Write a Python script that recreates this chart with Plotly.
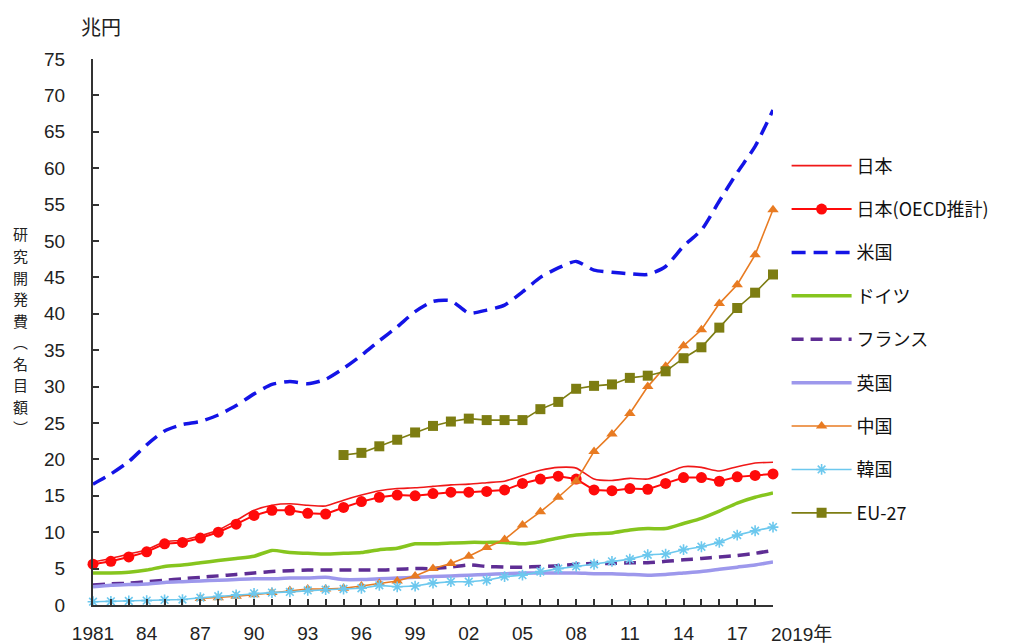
import plotly.graph_objects as go

# 研究開発費（名目額）, 兆円
years = list(range(1981, 2020))
years_china = list(range(1987, 2020))
years_eu = list(range(1995, 2020))

japan = [5.9, 6.4, 7.0, 7.6, 8.7, 8.9, 9.5, 10.3, 11.6, 13.0,
         13.7, 13.9, 13.7, 13.6, 14.4, 15.1, 15.7, 16.0, 16.1, 16.3,
         16.5, 16.6, 16.8, 17.0, 17.8, 18.5, 18.9, 18.8, 17.3, 17.1,
         17.4, 17.3, 18.1, 19.0, 18.9, 18.4, 19.0, 19.5, 19.6]
japan_oecd = [5.6, 6.0, 6.6, 7.3, 8.4, 8.6, 9.2, 10.0, 11.1, 12.3,
              13.0, 13.0, 12.6, 12.5, 13.4, 14.2, 14.8, 15.1, 15.0, 15.3,
              15.5, 15.5, 15.6, 15.8, 16.7, 17.3, 17.7, 17.3, 15.8, 15.7,
              16.0, 15.9, 16.7, 17.5, 17.5, 17.0, 17.6, 17.8, 18.0]
usa = [16.6, 18.0, 19.7, 22.0, 23.9, 24.8, 25.2, 26.1, 27.4, 29.0,
       30.3, 30.7, 30.4, 31.0, 32.5, 34.3, 36.3, 38.2, 40.3, 41.7,
       41.8, 40.1, 40.5, 41.2, 43.0, 45.0, 46.3, 47.2, 46.0, 45.7,
       45.5, 45.4, 46.5, 49.3, 51.5, 55.5, 59.4, 63.0, 68.0]
germany = [4.4, 4.4, 4.5, 4.8, 5.3, 5.5, 5.8, 6.1, 6.4, 6.7,
           7.5, 7.2, 7.1, 7.0, 7.1, 7.2, 7.6, 7.8, 8.4, 8.4,
           8.5, 8.6, 8.6, 8.6, 8.4, 8.7, 9.2, 9.6, 9.8, 9.9,
           10.3, 10.5, 10.5, 11.2, 11.9, 12.9, 14.0, 14.8, 15.4]
france = [2.75, 2.9, 3.0, 3.2, 3.4, 3.6, 3.8, 4.0, 4.2, 4.4,
          4.6, 4.7, 4.8, 4.8, 4.8, 4.8, 4.8, 4.9, 5.0, 5.0,
          5.2, 5.5, 5.3, 5.2, 5.2, 5.3, 5.4, 5.6, 5.7, 5.7,
          5.8, 5.8, 6.0, 6.2, 6.4, 6.6, 6.8, 7.1, 7.5]
uk = [2.5, 2.7, 2.8, 2.9, 3.1, 3.2, 3.3, 3.4, 3.5, 3.6,
      3.6, 3.7, 3.7, 3.8, 3.5, 3.5, 3.6, 3.7, 3.8, 3.9,
      4.0, 4.1, 4.2, 4.3, 4.4, 4.4, 4.4, 4.4, 4.3, 4.3,
      4.2, 4.1, 4.2, 4.4, 4.6, 4.9, 5.2, 5.5, 5.9]
china = [0.9, 1.0, 1.2, 1.4, 1.7, 2.0, 2.2, 2.2, 2.3, 2.6,
         3.0, 3.3, 4.0, 5.0, 5.7, 6.7, 7.9, 9.0, 11.0, 12.8,
         14.8, 17.0, 21.1, 23.5, 26.3, 30.0, 32.8, 35.6, 37.8, 41.4,
         44.0, 48.1, 54.3]
korea = [0.45, 0.5, 0.55, 0.6, 0.7, 0.75, 1.0, 1.2, 1.4, 1.6,
         1.7, 1.8, 2.0, 2.1, 2.2, 2.3, 2.7, 2.5, 2.6, 3.0,
         3.2, 3.2, 3.4, 3.9, 4.1, 4.6, 5.0, 5.3, 5.6, 6.0,
         6.3, 6.9, 7.0, 7.6, 8.0, 8.6, 9.6, 10.2, 10.7]
eu27 = [20.6, 20.9, 21.8, 22.7, 23.7, 24.6, 25.2, 25.6, 25.4, 25.4,
        25.4, 26.9, 27.9, 29.7, 30.1, 30.3, 31.2, 31.5, 32.1, 33.9,
        35.4, 38.1, 40.8, 42.9, 45.4]

xtick_vals = list(range(1981, 2019, 3))
xtick_text = ["1981", "84", "87", "90", "93", "96", "99", "02", "05",
              "08", "11", "14", "17"]

y_title_chars = list("研究開発費︵名目額︶")

FONT = "Liberation Sans, Arial, Noto Sans CJK JP, sans-serif"
CJK = "Noto Sans CJK JP, sans-serif"

# plot area in pixels
L, T, W, H = 93, 59, 680, 546

fig = go.Figure()


def add(name, x, y, color, width, dash="solid", shape="linear",
        symbol=None, msize=0, mline=0):
    mode = "lines+markers" if symbol else "lines"
    marker = dict(symbol=symbol, size=msize, color=color,
                  line=dict(color=color, width=mline)) if symbol else None
    fig.add_trace(go.Scatter(
        x=x, y=y, name=name, mode=mode, legendgroup=name,
        line=dict(color=color, width=width, dash=dash, shape=shape,
                  smoothing=0.6),
        marker=marker, cliponaxis=False))


add("日本", years, japan, "#f01818", 1.6, shape="spline")
add("日本(OECD推計)", years, japan_oecd, "#ff0a0a", 2,
    symbol="circle", msize=11)
add("米国", years, usa, "#1414e6", 3.5, dash="14px,8px", shape="spline")
add("ドイツ", years, germany, "#86c51e", 3.5, shape="spline")
add("フランス", years, france, "#5e2d94", 3.5, dash="12px,7px",
    shape="spline")
add("英国", years, uk, "#9d98ec", 3.5, shape="spline")
add("中国", years_china, china, "#e87b22", 1.6,
    symbol="triangle-up", msize=10)
add("韓国", years, korea, "#6cc8ee", 1.6,
    symbol="asterisk-open", msize=9, mline=1.6)
add("EU-27", years_eu, eu27, "#7d7d12", 1.6, symbol="square", msize=10)

annotations = [
    dict(text="兆円", xref="paper", yref="paper", x=(101 - L) / W,
         y=(T + H - 27) / H, xanchor="center", yanchor="middle",
         showarrow=False, font=dict(family=CJK, size=20, color="#222")),
    dict(text="2019年", xref="x", yref="paper", x=2019, y=0,
         xanchor="left", yanchor="top", xshift=-4, yshift=-17,
         showarrow=False, font=dict(family=FONT, size=19, color="#222")),
]
# vertical axis title, one character per row
for i, ch in enumerate(y_title_chars):
    yc = 234 + i * 21.5
    annotations.append(dict(
        text=ch, xref="paper", yref="paper", x=(20 - L) / W,
        y=(T + H - yc) / H, xanchor="center", yanchor="middle",
        showarrow=False, borderpad=0,
        font=dict(family=CJK, size=15, color="#222")))

fig.update_layout(
    width=1021, height=644,
    margin=dict(l=L, r=1021 - L - W, t=T, b=644 - T - H, autoexpand=False),
    paper_bgcolor="white", plot_bgcolor="white",
    font=dict(family=FONT, size=19, color="#222"),
    showlegend=True,
    legend=dict(x=1.02, y=0.838, xanchor="left", yanchor="top",
                font=dict(family=CJK, size=18, color="#111"),
                tracegroupgap=17, itemwidth=60, bgcolor="rgba(0,0,0,0)"),
    xaxis=dict(range=[1981, 2019], showline=True, linecolor="#333",
               linewidth=2, showgrid=False, zeroline=False, automargin=False,
               ticks="inside", ticklen=6, tickwidth=1.5, tickcolor="#333",
               tickvals=xtick_vals, ticktext=xtick_text,
               ticklabelstandoff=10,
               minor=dict(dtick=1, tick0=1981, ticks="inside", ticklen=6,
                          tickwidth=1.5, tickcolor="#333")),
    yaxis=dict(range=[0, 75], dtick=5, showline=True, linecolor="#333",
               linewidth=2, showgrid=False, zeroline=False, automargin=False,
               ticks="inside", ticklen=6, tickwidth=1.5, tickcolor="#333",
               ticklabelstandoff=22),
    annotations=annotations,
)

fig.write_html("out.html")
